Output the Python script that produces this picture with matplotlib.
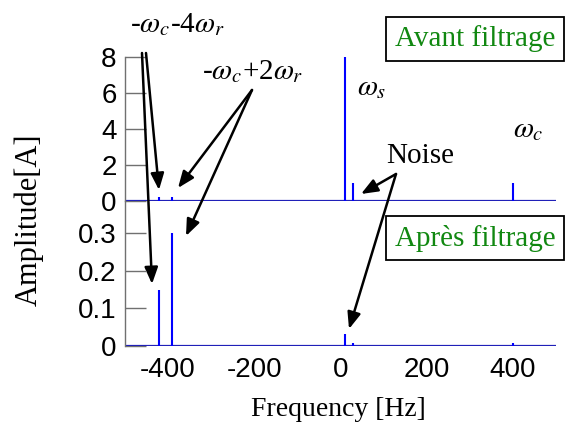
import matplotlib
matplotlib.use("Agg")
import matplotlib.pyplot as plt

W, H = 572, 430

# spectral lines (frequency in Hz, amplitude in A)
freqs_before = [-420, -390, 10, 30, 400]
amps_before = [0.2, 0.25, 8.0, 1.0, 1.0]
freqs_after = [-420, -390, 10, 30, 400]
amps_after = [0.15, 0.30, 0.032, 0.008, 0.008]

xticks = [-400, -200, 0, 200, 400]
yticks_before = [0, 2, 4, 6, 8]
yticks_after = [0, 0.1, 0.2, 0.3]
ytick_labels_after = ["0", "0.1", "0.2", "0.3"]

plt.rcParams["mathtext.fontset"] = "stix"
SERIF = "Liberation Serif"
SANS = "Liberation Sans"
BLUE = "#0000ff"
BASE = "#2020b8"
AXC = "#707070"


def px(x, y):
    return (x / W, 1 - y / H)


fig = plt.figure(figsize=(W / 100, H / 100), dpi=100, facecolor="white")
left, right = 125 / W, 556 / W
ax_top = fig.add_axes([left, 1 - 201 / H, right - left, (201 - 57) / H])
ax_bot = fig.add_axes([left, 1 - 346 / H, right - left, (346 - 201) / H])

for ax, fr, am, yt in [
    (ax_top, freqs_before, amps_before, yticks_before),
    (ax_bot, freqs_after, amps_after, yticks_after),
]:
    ax.set_facecolor("none")
    ax.axhline(0, color=BASE, lw=1.6, zorder=2)
    ax.vlines(fr, 0, am, color=BLUE, lw=1.5, zorder=3)
    ax.set_xlim(-500, 500)
    for s in ["top", "right", "bottom"]:
        ax.spines[s].set_visible(False)
    ax.spines["left"].set_color(AXC)
    ax.spines["left"].set_linewidth(1.0)
    ax.set_yticks(yt)
    ax.tick_params(axis="y", direction="in", length=15, width=1.0, color=AXC,
                   labelsize=20, pad=6)
    ax.tick_params(axis="x", length=0)
    for lab in ax.get_yticklabels():
        lab.set_family(SANS)

ax_top.set_ylim(0, 8)
ax_top.set_xticks([])
ax_bot.set_ylim(0, 0.385)
ax_bot.set_yticklabels(ytick_labels_after)
ax_bot.set_xticks(xticks)
ax_bot.set_xticklabels([str(t) for t in xticks], family=SANS, fontsize=20)
ax_bot.tick_params(axis="x", pad=8)

fig.text(*px(29, 220), "Amplitude[A]", rotation=90, ha="center", va="center",
         family=SERIF, fontsize=22)
fig.text(*px(338, 410), "Frequency [Hz]", ha="center", va="center",
         family=SERIF, fontsize=20)

# peak labels
fig.text(*px(177, 25), r"-$\omega_c$-4$\omega_r$", ha="center", va="center",
         family=SERIF, fontsize=21)
fig.text(*px(253, 72), r"-$\omega_c$+2$\omega_r$", ha="center", va="center",
         family=SERIF, fontsize=21)
fig.text(*px(372, 88), r"$\omega_s$", ha="center", va="center",
         family=SERIF, fontsize=21)
fig.text(*px(528, 130), r"$\omega_c$", ha="center", va="center",
         family=SERIF, fontsize=21)
fig.text(*px(420, 156), "Noise", ha="center", va="center",
         family=SERIF, fontsize=21)

box = dict(boxstyle="square,pad=0.3", fc="white", ec="black", lw=1.3)
fig.text(*px(475, 39), "Avant filtrage", ha="center", va="center",
         family=SERIF, fontsize=21, color="#118811", bbox=box)
fig.text(*px(475, 238), "Après filtrage", ha="center", va="center",
         family=SERIF, fontsize=21, color="#118811", bbox=box)

arrows = [
    ((142, 53), (152, 284)),
    ((146, 53), (159, 190)),
    ((252, 90), (178, 188)),
    ((252, 90), (186, 236)),
    ((396, 174), (361, 194)),
    ((396, 174), (349, 329)),
]
for start, end in arrows:
    ax_top.annotate(
        "", xy=px(*end), xytext=px(*start),
        xycoords="figure fraction", textcoords="figure fraction",
        annotation_clip=False,
        arrowprops=dict(arrowstyle="-|>,head_length=1.0,head_width=0.4",
                        color="black", lw=1.8, shrinkA=0, shrinkB=0),
    )

fig.savefig("out.png", dpi=100, facecolor="white")
